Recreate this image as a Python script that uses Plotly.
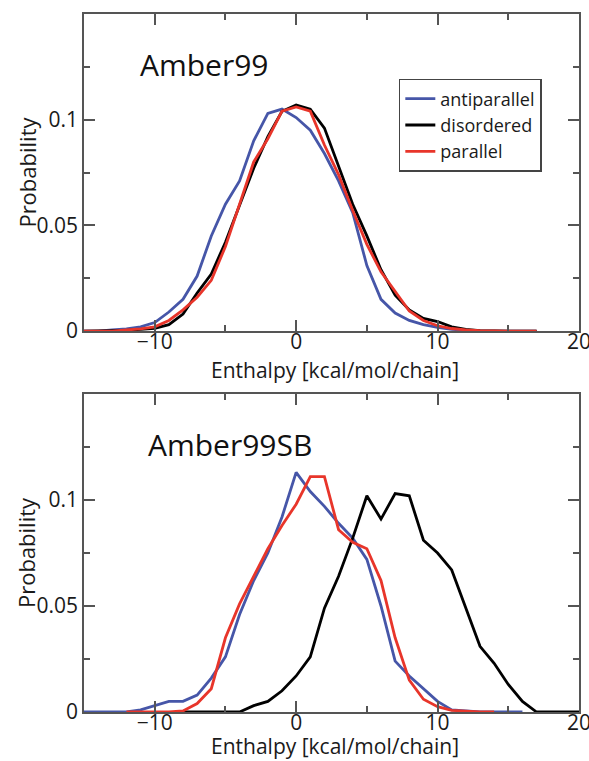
import plotly.graph_objects as go

# ---------------- data ----------------
top_x = list(range(-15, 18))
top_antiparallel = [0, 0, 0.0005, 0.001, 0.002, 0.004, 0.009, 0.015, 0.026, 0.045, 0.060,
                    0.071, 0.090, 0.103, 0.105, 0.101, 0.095, 0.084, 0.071, 0.056, 0.031,
                    0.015, 0.0085, 0.005, 0.003, 0.0017, 0.0008, 0.0003, 0, 0, 0, 0, 0]
top_disordered = [0, 0, 0, 0.0003, 0.0008, 0.0013, 0.003, 0.008, 0.018, 0.027, 0.042,
                  0.060, 0.077, 0.092, 0.104, 0.107, 0.105, 0.096, 0.078, 0.060, 0.045,
                  0.029, 0.017, 0.010, 0.006, 0.0045, 0.002, 0.0008, 0.0002, 0, 0, 0, 0]
top_parallel = [0, 0, 0, 0.0005, 0.001, 0.002, 0.005, 0.010, 0.016, 0.024, 0.040,
                0.060, 0.080, 0.091, 0.104, 0.106, 0.104, 0.088, 0.074, 0.057, 0.041,
                0.028, 0.019, 0.0095, 0.005, 0.0025, 0.0012, 0.0005, 0.0002, 0, 0, 0, 0]

bot_x_anti = list(range(-15, 17))
bot_antiparallel = [0, 0, 0, 0, 0.001, 0.003, 0.005, 0.005, 0.008, 0.016, 0.026,
                    0.046, 0.062, 0.075, 0.092, 0.113, 0.104, 0.097, 0.089, 0.082, 0.072,
                    0.050, 0.024, 0.017, 0.011, 0.005, 0.001, 0.0005, 0, 0, 0, 0]
bot_x_dis = list(range(-8, 21))
bot_disordered = [0, 0, 0, 0, 0, 0.003, 0.005, 0.010, 0.017, 0.026, 0.049, 0.064,
                  0.082, 0.102, 0.091, 0.103, 0.102, 0.081, 0.075, 0.067, 0.049, 0.031,
                  0.023, 0.013, 0.005, 0, 0, 0, 0]
bot_x_par = list(range(-12, 15))
bot_parallel = [0, 0, 0, 0, 0.0005, 0.004, 0.011, 0.035, 0.051, 0.064, 0.077, 0.088,
                0.098, 0.111, 0.111, 0.086, 0.080, 0.077, 0.062, 0.035, 0.015, 0.006,
                0.0025, 0.0008, 0.0003, 0, 0]

names = ["antiparallel", "disordered", "parallel"]
colors = ["#4656a8", "#000000", "#e8352a"]
x_ticks = [-10, 0, 10, 20]
y_ticks = [0, 0.05, 0.1]
y_tick_text = ["0", "0.05", "0.1"]
x_title = "Enthalpy [kcal/mol/chain]"
y_title = "Probability"

FONT = "Open Sans"
AX = "#555555"
TXT = "#1a1a1a"

fig = go.Figure()
for name, col, ys in zip(names, colors, [top_antiparallel, top_disordered, top_parallel]):
    fig.add_trace(go.Scatter(x=top_x, y=ys, mode="lines", name=name,
                             line=dict(color=col, width=2.8), xaxis="x", yaxis="y"))
for name, col, xs, ys in zip(names, colors, [bot_x_anti, bot_x_dis, bot_x_par],
                             [bot_antiparallel, bot_disordered, bot_parallel]):
    fig.add_trace(go.Scatter(x=xs, y=ys, mode="lines", name=name, showlegend=False,
                             line=dict(color=col, width=2.8), xaxis="x2", yaxis="y2"))

def xax(anchor):
    return dict(range=[-15, 20], tickvals=x_ticks, ticks="inside", ticklen=11, tickwidth=1.5,
                tickcolor=AX, showline=True, linecolor=AX, linewidth=1.5, mirror="allticks",
                showgrid=False, zeroline=False, anchor=anchor, ticklabelstandoff=-9,
                ticklabeloverflow="allow", automargin=False,
                minor=dict(ticks="inside", tickvals=[-5, 5, 15], ticklen=6, tickwidth=1.5,
                           tickcolor=AX, showgrid=False),
                tickfont=dict(family=FONT, size=21, color=TXT))

def yax(domain, anchor):
    return dict(range=[0, 0.15], domain=domain, tickvals=y_ticks + [0.15],
                ticktext=y_tick_text + [""], ticks="inside", ticklen=11, tickwidth=1.5,
                tickcolor=AX, showline=True, linecolor=AX, linewidth=1.5, mirror="allticks",
                showgrid=False, zeroline=False, anchor=anchor, automargin=False,
                minor=dict(ticks="inside", tickvals=[0.025, 0.075, 0.125], ticklen=6,
                           tickwidth=1.5, tickcolor=AX, showgrid=False),
                tickfont=dict(family=FONT, size=21, color=TXT))

def label(text, x, y, angle=0, size=21):
    return dict(text=text, x=x, y=y, xref="paper", yref="paper", xanchor="center",
                yanchor="middle", showarrow=False, textangle=angle,
                font=dict(family=FONT, size=size, color=TXT))

fig.update_layout(
    width=589, height=761,
    margin=dict(l=84, r=10, t=14, b=49, autoexpand=False),
    paper_bgcolor="white", plot_bgcolor="white",
    xaxis=xax("y"), yaxis=yax([0.5458, 1], "x"),
    xaxis2=xax("y2"), yaxis2=yax([0, 0.4556], "x2"),
    showlegend=True,
    legend=dict(x=0.636, y=0.907, xanchor="left", yanchor="top",
                bordercolor="#444", borderwidth=1.5, bgcolor="white",
                font=dict(family=FONT, size=18, color=TXT), tracegroupgap=0),
    annotations=[
        dict(text="Amber99", x=-11.15, y=0.126, xref="x", yref="y", xanchor="left",
             yanchor="middle", showarrow=False, font=dict(family=FONT, size=30, color="#111")),
        dict(text="Amber99SB", x=-10.65, y=0.126, xref="x2", yref="y2", xanchor="left",
             yanchor="middle", showarrow=False, font=dict(family=FONT, size=30, color="#111")),
        label(x_title, 0.507, 0.4900),
        label(x_title, 0.507, -0.0487),
        label(y_title, -0.117, 0.7729, angle=-90, size=22),
        label(y_title, -0.117, 0.2278, angle=-90, size=22),
    ],
)

fig.write_html(
    "out.html", config={"displayModeBar": False},
    post_script=("document.body.style.margin='0';document.body.style.padding='0';"
                 "document.body.style.overflow='hidden';"
                 "document.documentElement.style.overflow='hidden';"))
